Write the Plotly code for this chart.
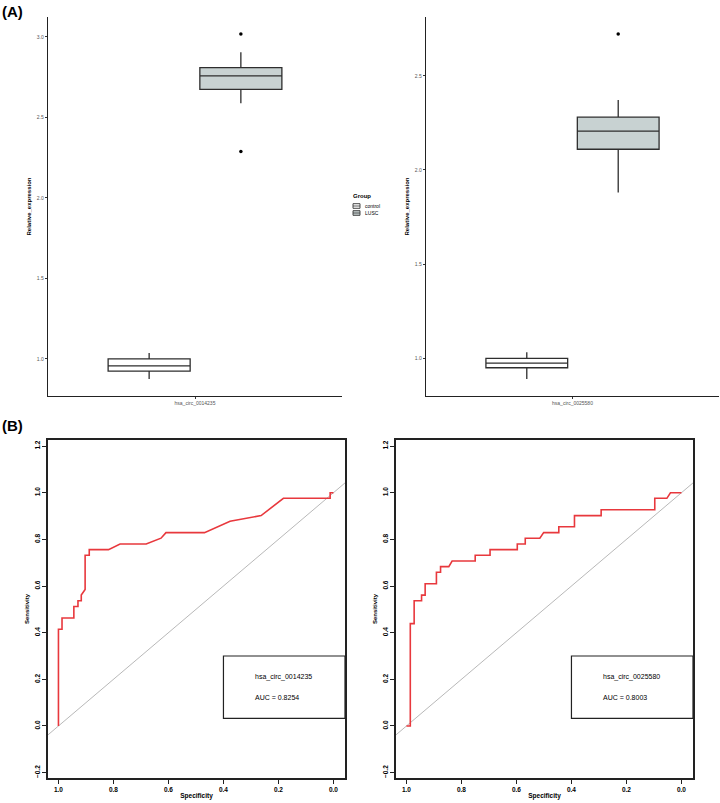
import plotly.graph_objects as go

W, H = 720, 803
def fx(px): return px / W
def fy(py): return 1 - py / H

# ---------------- data ----------------
groups = ["control", "LUSC"]
genes = ["hsa_circ_0014235", "hsa_circ_0025580"]
group_fill = ["#ffffff", "#c8d2d2"]

# box statistics per gene: [control, LUSC]
g1_lowerfence = [0.876, 2.588]
g1_q1 = [0.925, 2.675]
g1_median = [0.957, 2.758]
g1_q3 = [1.000, 2.809]
g1_upperfence = [1.037, 2.905]
g1_outliers_lusc = [3.019, 2.288]

g2_lowerfence = [0.890, 1.880]
g2_q1 = [0.950, 2.110]
g2_median = [0.975, 2.206]
g2_q3 = [1.000, 2.280]
g2_upperfence = [1.032, 2.371]
g2_outliers_lusc = [2.722]

box_yticks_1 = [1.0, 1.5, 2.0, 2.5, 3.0]
box_yticks_2 = [1.0, 1.5, 2.0, 2.5]

# ROC curves (specificity, sensitivity)
roc1_spec = [1.0, 1.0, 0.987, 0.987, 0.944, 0.944, 0.929, 0.929, 0.917, 0.917, 0.903, 0.903,
             0.888, 0.888, 0.818, 0.776, 0.681, 0.627, 0.609, 0.469, 0.376, 0.263, 0.182,
             0.012, 0.012, 0.0]
roc1_sens = [0.0, 0.415, 0.415, 0.463, 0.463, 0.512, 0.512, 0.537, 0.537, 0.561, 0.585, 0.732,
             0.732, 0.756, 0.756, 0.780, 0.780, 0.805, 0.829, 0.829, 0.878, 0.902, 0.976,
             0.976, 1.0, 1.0]

roc2_spec = [1.0, 0.986, 0.986, 0.972, 0.972, 0.945, 0.945, 0.932, 0.932, 0.891, 0.891, 0.876,
             0.876, 0.846, 0.834, 0.750, 0.750, 0.696, 0.696, 0.597, 0.597, 0.568, 0.568,
             0.515, 0.501, 0.446, 0.446, 0.389, 0.389, 0.292, 0.292, 0.097, 0.097, 0.053,
             0.040, 0.0]
roc2_sens = [0.0, 0.0, 0.439, 0.439, 0.537, 0.537, 0.561, 0.561, 0.610, 0.610, 0.659, 0.659,
             0.683, 0.683, 0.707, 0.707, 0.732, 0.732, 0.756, 0.756, 0.780, 0.780, 0.805,
             0.805, 0.829, 0.829, 0.854, 0.854, 0.902, 0.902, 0.927, 0.927, 0.976, 0.976,
             1.0, 1.0]

auc_labels = ["AUC = 0.8254", "AUC = 0.8003"]
roc_ticks = [1.0, 0.8, 0.6, 0.4, 0.2, 0.0]
roc_yticks = [-0.2, 0.0, 0.2, 0.4, 0.6, 0.8, 1.0, 1.2]

FONT = "Liberation Sans"
fig = go.Figure()

# ---------------- box plots ----------------
offsets = [-0.156, 0.156]
BOXW = 0.279
box_sets = [
    ("x", "y", g1_lowerfence, g1_q1, g1_median, g1_q3, g1_upperfence, g1_outliers_lusc),
    ("x2", "y2", g2_lowerfence, g2_q1, g2_median, g2_q3, g2_upperfence, g2_outliers_lusc),
]
for xa, ya, lf, q1, med, q3, uf, outl in box_sets:
    for i, grp in enumerate(groups):
        fig.add_trace(go.Box(
            x=[offsets[i]], lowerfence=[lf[i]], q1=[q1[i]], median=[med[i]], q3=[q3[i]],
            upperfence=[uf[i]], width=BOXW, whiskerwidth=0,
            fillcolor=group_fill[i], line=dict(color="#2e2e2e", width=1.3),
            name=grp, showlegend=False, xaxis=xa, yaxis=ya, hoverinfo="skip",
        ))
    fig.add_trace(go.Scatter(
        x=[offsets[1]] * len(outl), y=outl, mode="markers",
        marker=dict(color="black", size=3.5), showlegend=False, xaxis=xa, yaxis=ya,
        hoverinfo="skip",
    ))

# ---------------- ROC curves ----------------
roc_sets = [("x3", "y3", roc1_spec, roc1_sens), ("x4", "y4", roc2_spec, roc2_sens)]
for xa, ya, sp, se in roc_sets:
    fig.add_trace(go.Scatter(
        x=[1.1, -0.1], y=[-0.1, 1.1], mode="lines",
        line=dict(color="#b0b0b0", width=0.9), showlegend=False, xaxis=xa, yaxis=ya,
        hoverinfo="skip",
    ))
    fig.add_trace(go.Scatter(
        x=sp, y=se, mode="lines", line=dict(color="#e8383d", width=1.6),
        showlegend=False, xaxis=xa, yaxis=ya, hoverinfo="skip",
    ))

# ---------------- axes ----------------
box_x_common = dict(
    showline=True, linecolor="#222222", linewidth=1.4, ticks="outside", ticklen=2,
    tickcolor="#333333", tickfont=dict(size=5, color="#555555", family=FONT),
    showgrid=False, zeroline=False, range=[-0.5, 0.5], tickvals=[0],
)
box_y_common = dict(
    showline=True, linecolor="#222222", linewidth=1.4, ticks="outside", ticklen=2,
    tickcolor="#333333", tickfont=dict(size=5, color="#555555", family=FONT),
    showgrid=False, zeroline=False, tickformat=".1f",
    title=dict(text="Relative_expression", font=dict(size=6, family=FONT, color="black",
                                                        weight="bold"), standoff=4),
)
roc_x_common = dict(
    showline=True, mirror=True, linecolor="#222222", linewidth=1.5, ticks="outside",
    ticklen=4, tickcolor="#222222", tickvals=roc_ticks, tickformat=".1f",
    tickfont=dict(size=6.5, color="black", family=FONT, weight="bold"),
    showgrid=False, zeroline=False, range=[1.038, -0.042],
    title=dict(text="Specificity", font=dict(size=6.5, family=FONT, color="black",
                                                weight="bold"), standoff=2),
)
roc_y_common = dict(
    showline=True, mirror=True, linecolor="#222222", linewidth=1.5, ticks="outside",
    ticklen=4, tickcolor="#222222", tickvals=roc_yticks, tickformat=".1f", tickangle=-90,
    tickfont=dict(size=6.5, color="black", family=FONT, weight="bold"),
    showgrid=False, zeroline=False, range=[-0.223, 1.226],
    title=dict(text="Sensitivity", font=dict(size=6, family=FONT, color="black",
                                                weight="bold"), standoff=4),
)

fig.update_layout(
    xaxis=dict(box_x_common, domain=[fx(48), fx(342)], anchor="y", ticktext=[genes[0]]),
    yaxis=dict(box_y_common, domain=[fy(396), fy(17)], anchor="x", range=[0.77, 3.124],
               tickvals=box_yticks_1),
    xaxis2=dict(box_x_common, domain=[fx(426), fx(719)], anchor="y2", ticktext=[genes[1]]),
    yaxis2=dict(box_y_common, domain=[fy(396), fy(17)], anchor="x2", range=[0.80, 2.812],
                tickvals=box_yticks_2),
    xaxis3=dict(roc_x_common, domain=[fx(48), fx(345)], anchor="y3"),
    yaxis3=dict(roc_y_common, domain=[fy(778), fy(440)], anchor="x3"),
    xaxis4=dict(roc_x_common, domain=[fx(396), fx(693)], anchor="y4"),
    yaxis4=dict(roc_y_common, domain=[fy(778), fy(440)], anchor="x4"),
)

# legend boxes in ROC panels
for k, (xa, ya) in enumerate([("x3", "y3"), ("x4", "y4")]):
    fig.add_shape(type="rect", xref=xa, yref=ya, x0=0.4, x1=-0.042, y0=0.033, y1=0.30,
                  line=dict(color="#222222", width=1.2), fillcolor="rgba(0,0,0,0)")
    fig.add_annotation(xref=xa, yref=ya, x=0.292, y=0.21, text=genes[k], showarrow=False,
                       xanchor="left", font=dict(size=7, family=FONT, color="black"))
    fig.add_annotation(xref=xa, yref=ya, x=0.292, y=0.12, text=auc_labels[k], showarrow=False,
                       xanchor="left", font=dict(size=7, family=FONT, color="black"))

# "Group" legend for the box plots (small glyphs, as in the original)
fig.add_annotation(xref="paper", yref="paper", x=fx(351), y=fy(196), text="<b>Group</b>",
                   showarrow=False, xanchor="left", yanchor="middle",
                   font=dict(size=6, family=FONT, color="black"))
for i, grp in enumerate(groups):
    yc = 206 + 7 * i
    fig.add_shape(type="rect", xref="paper", yref="paper", x0=fx(353), x1=fx(360),
                  y0=fy(yc + 2.3), y1=fy(yc - 2.3), fillcolor=group_fill[i],
                  line=dict(color="#333333", width=0.9))
    fig.add_shape(type="line", xref="paper", yref="paper", x0=fx(353), x1=fx(360),
                  y0=fy(yc), y1=fy(yc), line=dict(color="#333333", width=0.8))
    fig.add_annotation(xref="paper", yref="paper", x=fx(363), y=fy(yc), text=grp,
                       showarrow=False, xanchor="left", yanchor="middle",
                       font=dict(size=5, family=FONT, color="black"))

# panel labels
fig.add_annotation(xref="paper", yref="paper", x=0, y=fy(11), text="<b>(A)</b>",
                   showarrow=False, xanchor="left", yanchor="middle",
                   font=dict(size=15, family=FONT, color="black"))
fig.add_annotation(xref="paper", yref="paper", x=0, y=fy(425), text="<b>(B)</b>",
                   showarrow=False, xanchor="left", yanchor="middle",
                   font=dict(size=15, family=FONT, color="black"))

fig.update_layout(
    width=W, height=H, margin=dict(l=0, r=0, t=0, b=0),
    paper_bgcolor="white", plot_bgcolor="white",
    font=dict(family=FONT, color="black"),
    showlegend=False,
)

fig.write_html("out.html", config={"displayModeBar": False},
               post_script="document.body.style.margin='0px';")
